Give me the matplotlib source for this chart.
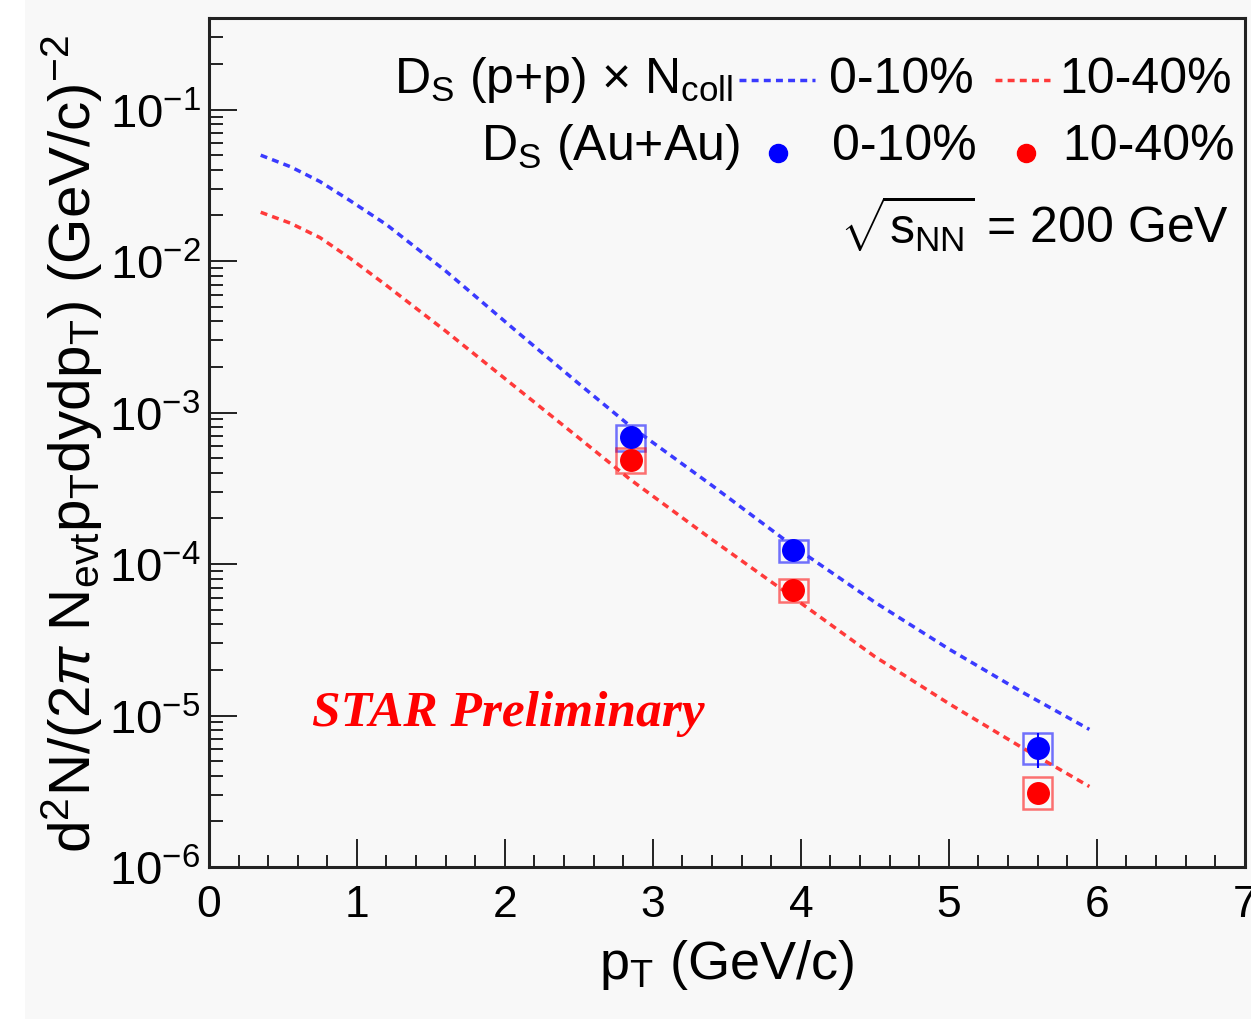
# D_s spectra in Au+Au vs p+p x Ncoll (STAR preliminary)

import numpy as np
import matplotlib
matplotlib.use('Agg')
import matplotlib.pyplot as plt
from matplotlib.patches import Rectangle
from matplotlib.lines import Line2D
from matplotlib.ticker import MultipleLocator, LogLocator, NullFormatter

plt.rcParams['font.family'] = ['Liberation Sans', 'DejaVu Sans']
plt.rcParams['mathtext.fontset'] = 'custom'
plt.rcParams['mathtext.rm'] = 'Liberation Sans'
plt.rcParams['mathtext.it'] = 'Liberation Sans:italic'
plt.rcParams['mathtext.bf'] = 'Liberation Sans:bold'

# p+p x Ncoll reference curves
pt_curve = [0.35, 0.55, 0.75, 0.95, 1.2, 1.6, 2.1, 2.5, 2.85, 3.4, 3.95, 4.5, 5.0, 5.5, 5.95]
pp_010 = [0.050, 0.042, 0.0335, 0.0252, 0.0174, 8.6e-3, 3.3e-3, 1.55e-3, 8.1e-4, 3.3e-4,
          1.31e-4, 5.6e-5, 2.75e-5, 1.42e-5, 8.1e-6]
pp_1040 = [0.021, 0.0178, 0.0143, 0.0105, 6.9e-3, 3.45e-3, 1.4e-3, 6.8e-4, 3.6e-4, 1.45e-4,
           6.0e-5, 2.45e-5, 1.2e-5, 6.1e-6, 3.4e-6]

# Au+Au data points
pt_data = [2.85, 3.95, 5.6]
auau_010 = [6.85e-4, 1.23e-4, 6.1e-6]
stat_010 = [0.5e-4, 0.1e-4, 1.6e-6]
syslo_010 = [1.3e-4, 2.0e-5, 1.3e-6]
syshi_010 = [1.4e-4, 2.2e-5, 1.6e-6]
auau_1040 = [4.85e-4, 6.7e-5, 3.1e-6]
stat_1040 = [0.4e-4, 0.6e-5, 0.5e-6]
syslo_1040 = [0.85e-4, 1.1e-5, 0.7e-6]
syshi_1040 = [1.0e-4, 1.3e-5, 0.8e-6]
box_halfwidth = 0.1

blue = '#0000ff'
red = '#ff0000'

fig = plt.figure(figsize=(12.51, 10.2), dpi=100, facecolor='#f8f8f8')
fig.patches.append(Rectangle((0, 0), 25 / 1251, 1, transform=fig.transFigure,
                             facecolor='white', edgecolor='none', zorder=-1))
ax = fig.add_axes([0.167, 0.149, 0.828, 0.832])
ax.set_facecolor('#f8f8f8')

ax.plot(pt_curve, pp_010, color='#3a3aff', lw=2.5, ls=(0, (2, 1.5)))
ax.plot(pt_curve, pp_1040, color='#ff3a3a', lw=2.5, ls=(0, (2, 1.5)))

for y, slo, shi, c in [(auau_010, syslo_010, syshi_010, blue),
                       (auau_1040, syslo_1040, syshi_1040, red)]:
    for i in range(len(pt_data)):
        ax.add_patch(Rectangle((pt_data[i] - box_halfwidth, y[i] - slo[i]),
                               2 * box_halfwidth, slo[i] + shi[i],
                               facecolor='none', edgecolor=c, alpha=0.55, lw=1.8))

ax.errorbar(pt_data, auau_1040, yerr=stat_1040, fmt='o', color=red, ms=15.5,
            elinewidth=1.5, capsize=0, zorder=5)
ax.errorbar(pt_data, auau_010, yerr=stat_010, fmt='o', color=blue, ms=15.5,
            elinewidth=1.5, capsize=0, zorder=6)

ax.set_yscale('log')
ax.set_xlim(0, 7)
ax.set_ylim(1e-6, 0.4)
ax.xaxis.set_major_locator(MultipleLocator(1))
ax.xaxis.set_minor_locator(MultipleLocator(0.2))
ax.yaxis.set_minor_locator(LogLocator(base=10, subs=np.arange(2, 10)))
ax.yaxis.set_minor_formatter(NullFormatter())

ax.tick_params(which='both', direction='in', top=False, right=False, width=1.4, color='#222222')
ax.tick_params(axis='x', which='major', length=20, pad=12, labelsize=32)
ax.tick_params(axis='x', which='minor', length=9)
ax.tick_params(axis='y', which='major', length=20, pad=6, labelsize=34)
ax.tick_params(axis='y', which='minor', length=10)
for s in ax.spines.values():
    s.set_linewidth(2.2)
    s.set_color('#222222')

ax.set_xlabel(r'p$_{\mathrm{T}}$ (GeV/c)', fontsize=39)
ax.xaxis.set_label_coords(0.5, -0.083)
ax.set_ylabel(r'd$^{2}$N/(2$\pi$ N$_{\mathrm{evt}}$p$_{\mathrm{T}}$dydp$_{\mathrm{T}}$) (GeV/c)$^{-2}$',
              fontsize=42)
ax.yaxis.set_label_coords(-0.1, 0.5)

# legend drawn by hand, ROOT style
fs = 36
ax.text(0.506, 0.913, r'D$_{\mathrm{S}}$ (p+p) $\times$ N$_{\mathrm{coll}}$', transform=ax.transAxes,
        ha='right', va='baseline', fontsize=fs)
ax.add_line(Line2D([0.512, 0.585], [0.927, 0.927], transform=ax.transAxes,
                   color='#3a3aff', lw=2.5, ls=(0, (2, 1.5))))
ax.text(0.599, 0.913, '0-10%', transform=ax.transAxes, ha='left', va='baseline', fontsize=fs)
ax.add_line(Line2D([0.759, 0.812], [0.927, 0.927], transform=ax.transAxes,
                   color='#ff3a3a', lw=2.5, ls=(0, (2, 1.5))))
ax.text(0.821, 0.913, '10-40%', transform=ax.transAxes, ha='left', va='baseline', fontsize=fs)

ax.text(0.513, 0.834, r'D$_{\mathrm{S}}$ (Au+Au)', transform=ax.transAxes,
        ha='right', va='baseline', fontsize=fs)
ax.plot([0.549], [0.841], 'o', color=blue, ms=13, transform=ax.transAxes, clip_on=False)
ax.text(0.602, 0.834, '0-10%', transform=ax.transAxes, ha='left', va='baseline', fontsize=fs)
ax.plot([0.789], [0.841], 'o', color=red, ms=13, transform=ax.transAxes, clip_on=False)
ax.text(0.824, 0.834, '10-40%', transform=ax.transAxes, ha='left', va='baseline', fontsize=fs)

ax.text(0.985, 0.736, r'$\sqrt{\mathrm{s}_{\mathrm{NN}}}$ = 200 GeV', transform=ax.transAxes,
        ha='right', va='baseline', fontsize=fs)

ax.text(0.1, 0.181, 'STAR Preliminary', transform=ax.transAxes, ha='left', va='center',
        fontsize=37, color=red, family='Liberation Serif', style='italic', weight='bold')

plt.savefig('out.png', dpi=100, facecolor=fig.get_facecolor())
